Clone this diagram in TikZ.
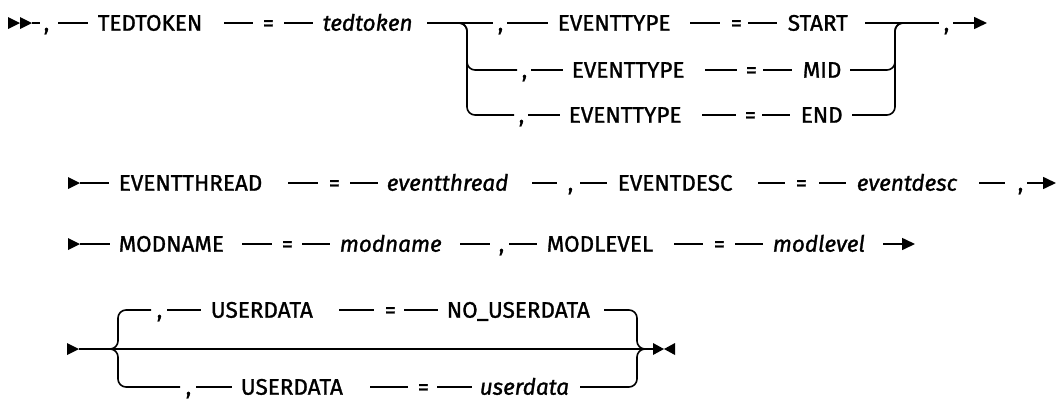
\documentclass[tikz,border=0pt]{standalone}
\usepackage{fontspec}
\setmainfont{Fira Sans}[FakeBold=1.2]
\usetikzlibrary{calc,arrows.meta}
\begin{document}
\begin{tikzpicture}[x=1pt,y=-1pt,
  line width=1.6pt,
  tok/.style={inner sep=0pt, anchor=west, text height=15.4pt, text depth=0pt, font=\fontsize{22.5}{26}\selectfont},
  var/.style={tok, font=\fontsize{22.5}{26}\selectfont\itshape},
  rail/.style={line width=1.6pt},
  branch/.style={rail, rounded corners=8pt},
  arr/.style={rail, -{Triangle[length=13pt,width=12pt]}},
  tip/.style={fill=black, draw=none}
]
\useasboundingbox (0,0) rectangle (1058,399);

% ---------------- Row 1 ----------------
\coordinate (s1) at (8,23);
\fill[tip] ($(s1)+(0,-6)$) -- ($(s1)+(12,0)$) -- ($(s1)+(0,6)$) -- cycle;
\fill[tip] ($(s1)+(12,-6)$) -- ($(s1)+(24,0)$) -- ($(s1)+(12,6)$) -- cycle;
\node[tok] (c11) at (43,23) {,};
\node[tok] (k11) at (97,23) {TEDTOKEN};
\node[tok] (e11) at (262,23) {=};
\node[var] (v11) at (322,23) {tedtoken};
\draw[rail] ([xshift=24pt]s1) -- ([xshift=-3pt]c11.west);
\draw[rail] ([xshift=15pt]c11.west) -- ([xshift=-9pt]k11.west);
\draw[rail] ([xshift=127pt]k11.west) -- ([xshift=-9pt]e11.west);
\draw[rail] ([xshift=22pt]e11.west) -- ([xshift=-9pt]v11.west);

\coordinate (jl) at (467,23);
\coordinate (jr) at (895,23);

\node[tok] (c12) at (497,23) {,};
\node[tok] (k12) at (557,23) {EVENTTYPE};
\node[tok] (e12) at (730,23) {=};
\node[tok] (v12) at (787,23) {START};
\node[tok] (c13) at (943,23) {,};
\draw[rail] ([xshift=105pt]v11.west) -- ([xshift=-4pt]c12.west);
\draw[rail] ([xshift=10pt]c12.west) -- ([xshift=-9pt]k12.west);
\draw[rail] ([xshift=133pt]k12.west) -- ([xshift=-10pt]e12.west);
\draw[rail] ([xshift=18pt]e12.west) -- ([xshift=-10pt]v12.west);
\draw[rail] ([xshift=78pt]v12.west) -- ([xshift=-4pt]c13.west);
\draw[arr] ([xshift=10pt]c13.west) -- ([xshift=44pt]c13.west);

% ---------------- Row 2 ----------------
\node[tok] (c22) at (521,70) {,};
\node[tok] (k22) at (571,70) {EVENTTYPE};
\node[tok] (e22) at (745,70) {=};
\node[tok] (v22) at (802,70) {MID};
\draw[branch] ([xshift=-22pt]jl) -| (jl |- c22.west) -- ([xshift=-4pt]c22.west);
\draw[rail] ([xshift=10pt]c22.west) -- ([xshift=-8pt]k22.west);
\draw[rail] ([xshift=134pt]k22.west) -- ([xshift=-8pt]e22.west);
\draw[rail] ([xshift=18pt]e22.west) -- ([xshift=-10pt]v22.west);
\draw[branch] ([xshift=48pt]v22.west) -| (jr) -- ([xshift=20pt]jr);

% ---------------- Row 3 ----------------
\node[tok] (c32) at (518,115) {,};
\node[tok] (k32) at (568,115) {EVENTTYPE};
\node[tok] (e32) at (744,115) {=};
\node[tok] (v32) at (800,115) {END};
\draw[branch] ([xshift=-22pt]jl) -| (jl |- c32.west) -- ([xshift=-4pt]c32.west);
\draw[rail] ([xshift=10pt]c32.west) -- ([xshift=-8pt]k32.west);
\draw[rail] ([xshift=134pt]k32.west) -- ([xshift=-8pt]e32.west);
\draw[rail] ([xshift=18pt]e32.west) -- ([xshift=-10pt]v32.west);
\draw[branch] ([xshift=52pt]v32.west) -| (jr) -- ([xshift=20pt]jr);

% ---------------- Row 4 ----------------
\coordinate (s4) at (68,183);
\fill[tip] ($(s4)+(0,-6)$) -- ($(s4)+(12,0)$) -- ($(s4)+(0,6)$) -- cycle;
\node[tok] (k41) at (118,183) {EVENTTHREAD};
\node[tok] (e41) at (328,183) {=};
\node[var] (v41) at (386,183) {eventthread};
\node[tok] (c41) at (567,183) {,};
\node[tok] (k42) at (617,183) {EVENTDESC};
\node[tok] (e42) at (795,183) {=};
\node[var] (v42) at (856,183) {eventdesc};
\node[tok] (c42) at (1017,183) {,};
\draw[rail] ([xshift=12pt]s4) -- ([xshift=-9pt]k41.west);
\draw[rail] ([xshift=170pt]k41.west) -- ([xshift=-10pt]e41.west);
\draw[rail] ([xshift=22pt]e41.west) -- ([xshift=-8pt]v41.west);
\draw[rail] ([xshift=146pt]v41.west) -- ([xshift=-10pt]c41.west);
\draw[rail] ([xshift=13pt]c41.west) -- ([xshift=-10pt]k42.west);
\draw[rail] ([xshift=141pt]k42.west) -- ([xshift=-10pt]e42.west);
\draw[rail] ([xshift=24pt]e42.west) -- ([xshift=-10pt]v42.west);
\draw[rail] ([xshift=123pt]v42.west) -- ([xshift=-12pt]c42.west);
\draw[arr] ([xshift=10pt]c42.west) -- ([xshift=39pt]c42.west);

% ---------------- Row 5 ----------------
\coordinate (s5) at (68,244);
\fill[tip] ($(s5)+(0,-6)$) -- ($(s5)+(12,0)$) -- ($(s5)+(0,6)$) -- cycle;
\node[tok] (k51) at (118,244) {MODNAME};
\node[tok] (e51) at (281,244) {=};
\node[var] (v51) at (339,244) {modname};
\node[tok] (c51) at (498,244) {,};
\node[tok] (k52) at (546,244) {MODLEVEL};
\node[tok] (e52) at (713,244) {=};
\node[var] (v52) at (772,244) {modlevel};
\draw[rail] ([xshift=12pt]s5) -- ([xshift=-8pt]k51.west);
\draw[rail] ([xshift=124pt]k51.west) -- ([xshift=-9pt]e51.west);
\draw[rail] ([xshift=21pt]e51.west) -- ([xshift=-9pt]v51.west);
\draw[rail] ([xshift=121pt]v51.west) -- ([xshift=-8pt]c51.west);
\draw[rail] ([xshift=11pt]c51.west) -- ([xshift=-9pt]k52.west);
\draw[rail] ([xshift=128pt]k52.west) -- ([xshift=-10pt]e52.west);
\draw[rail] ([xshift=22pt]e52.west) -- ([xshift=-9pt]v52.west);
\draw[arr] ([xshift=111pt]v52.west) -- ([xshift=143pt]v52.west);

% ---------------- Row 6 ----------------
\coordinate (s6) at (67,349);
\coordinate (bl) at (118,349);
\coordinate (br) at (637,349);
\coordinate (e6) at (653,349);
\fill[tip] ($(s6)+(0,-6)$) -- ($(s6)+(12,0)$) -- ($(s6)+(0,6)$) -- cycle;
\draw[rail] ([xshift=12pt]s6) -- (e6);
\fill[tip] ($(e6)+(0,-6)$) -- ($(e6)+(11,0)$) -- ($(e6)+(0,6)$) -- cycle;
\fill[tip] ($(e6)+(22,-6)$) -- ($(e6)+(11,0)$) -- ($(e6)+(22,6)$) -- cycle;

\node[tok] (c61) at (156,310) {,};
\node[tok] (k61) at (210,310) {USERDATA};
\node[tok] (e61) at (384,310) {=};
\node[tok] (v61) at (446,310) {NO\_USERDATA};
\draw[branch] ([xshift=-8pt]bl) -| (bl |- c61.west) -- ([xshift=-5pt]c61.west);
\draw[rail] ([xshift=11pt]c61.west) -- ([xshift=-9pt]k61.west);
\draw[rail] ([xshift=129pt]k61.west) -- ([xshift=-10pt]e61.west);
\draw[rail] ([xshift=20pt]e61.west) -- ([xshift=-8pt]v61.west);
\draw[branch] ([xshift=158pt]v61.west) -| (br) -- ([xshift=8pt]br);

\node[tok] (c62) at (185,387) {,};
\node[tok] (k62) at (240,387) {USERDATA};
\node[tok] (e62) at (417,387) {=};
\node[var] (v62) at (479,387) {userdata};
\draw[branch] ([xshift=-8pt]bl) -| (bl |- c62.west) -- ([xshift=-5pt]c62.west);
\draw[rail] ([xshift=11pt]c62.west) -- ([xshift=-8pt]k62.west);
\draw[rail] ([xshift=130pt]k62.west) -- ([xshift=-9pt]e62.west);
\draw[rail] ([xshift=20pt]e62.west) -- ([xshift=-7pt]v62.west);
\draw[branch] ([xshift=101pt]v62.west) -| (br) -- ([xshift=8pt]br);
\end{tikzpicture}
\end{document}
